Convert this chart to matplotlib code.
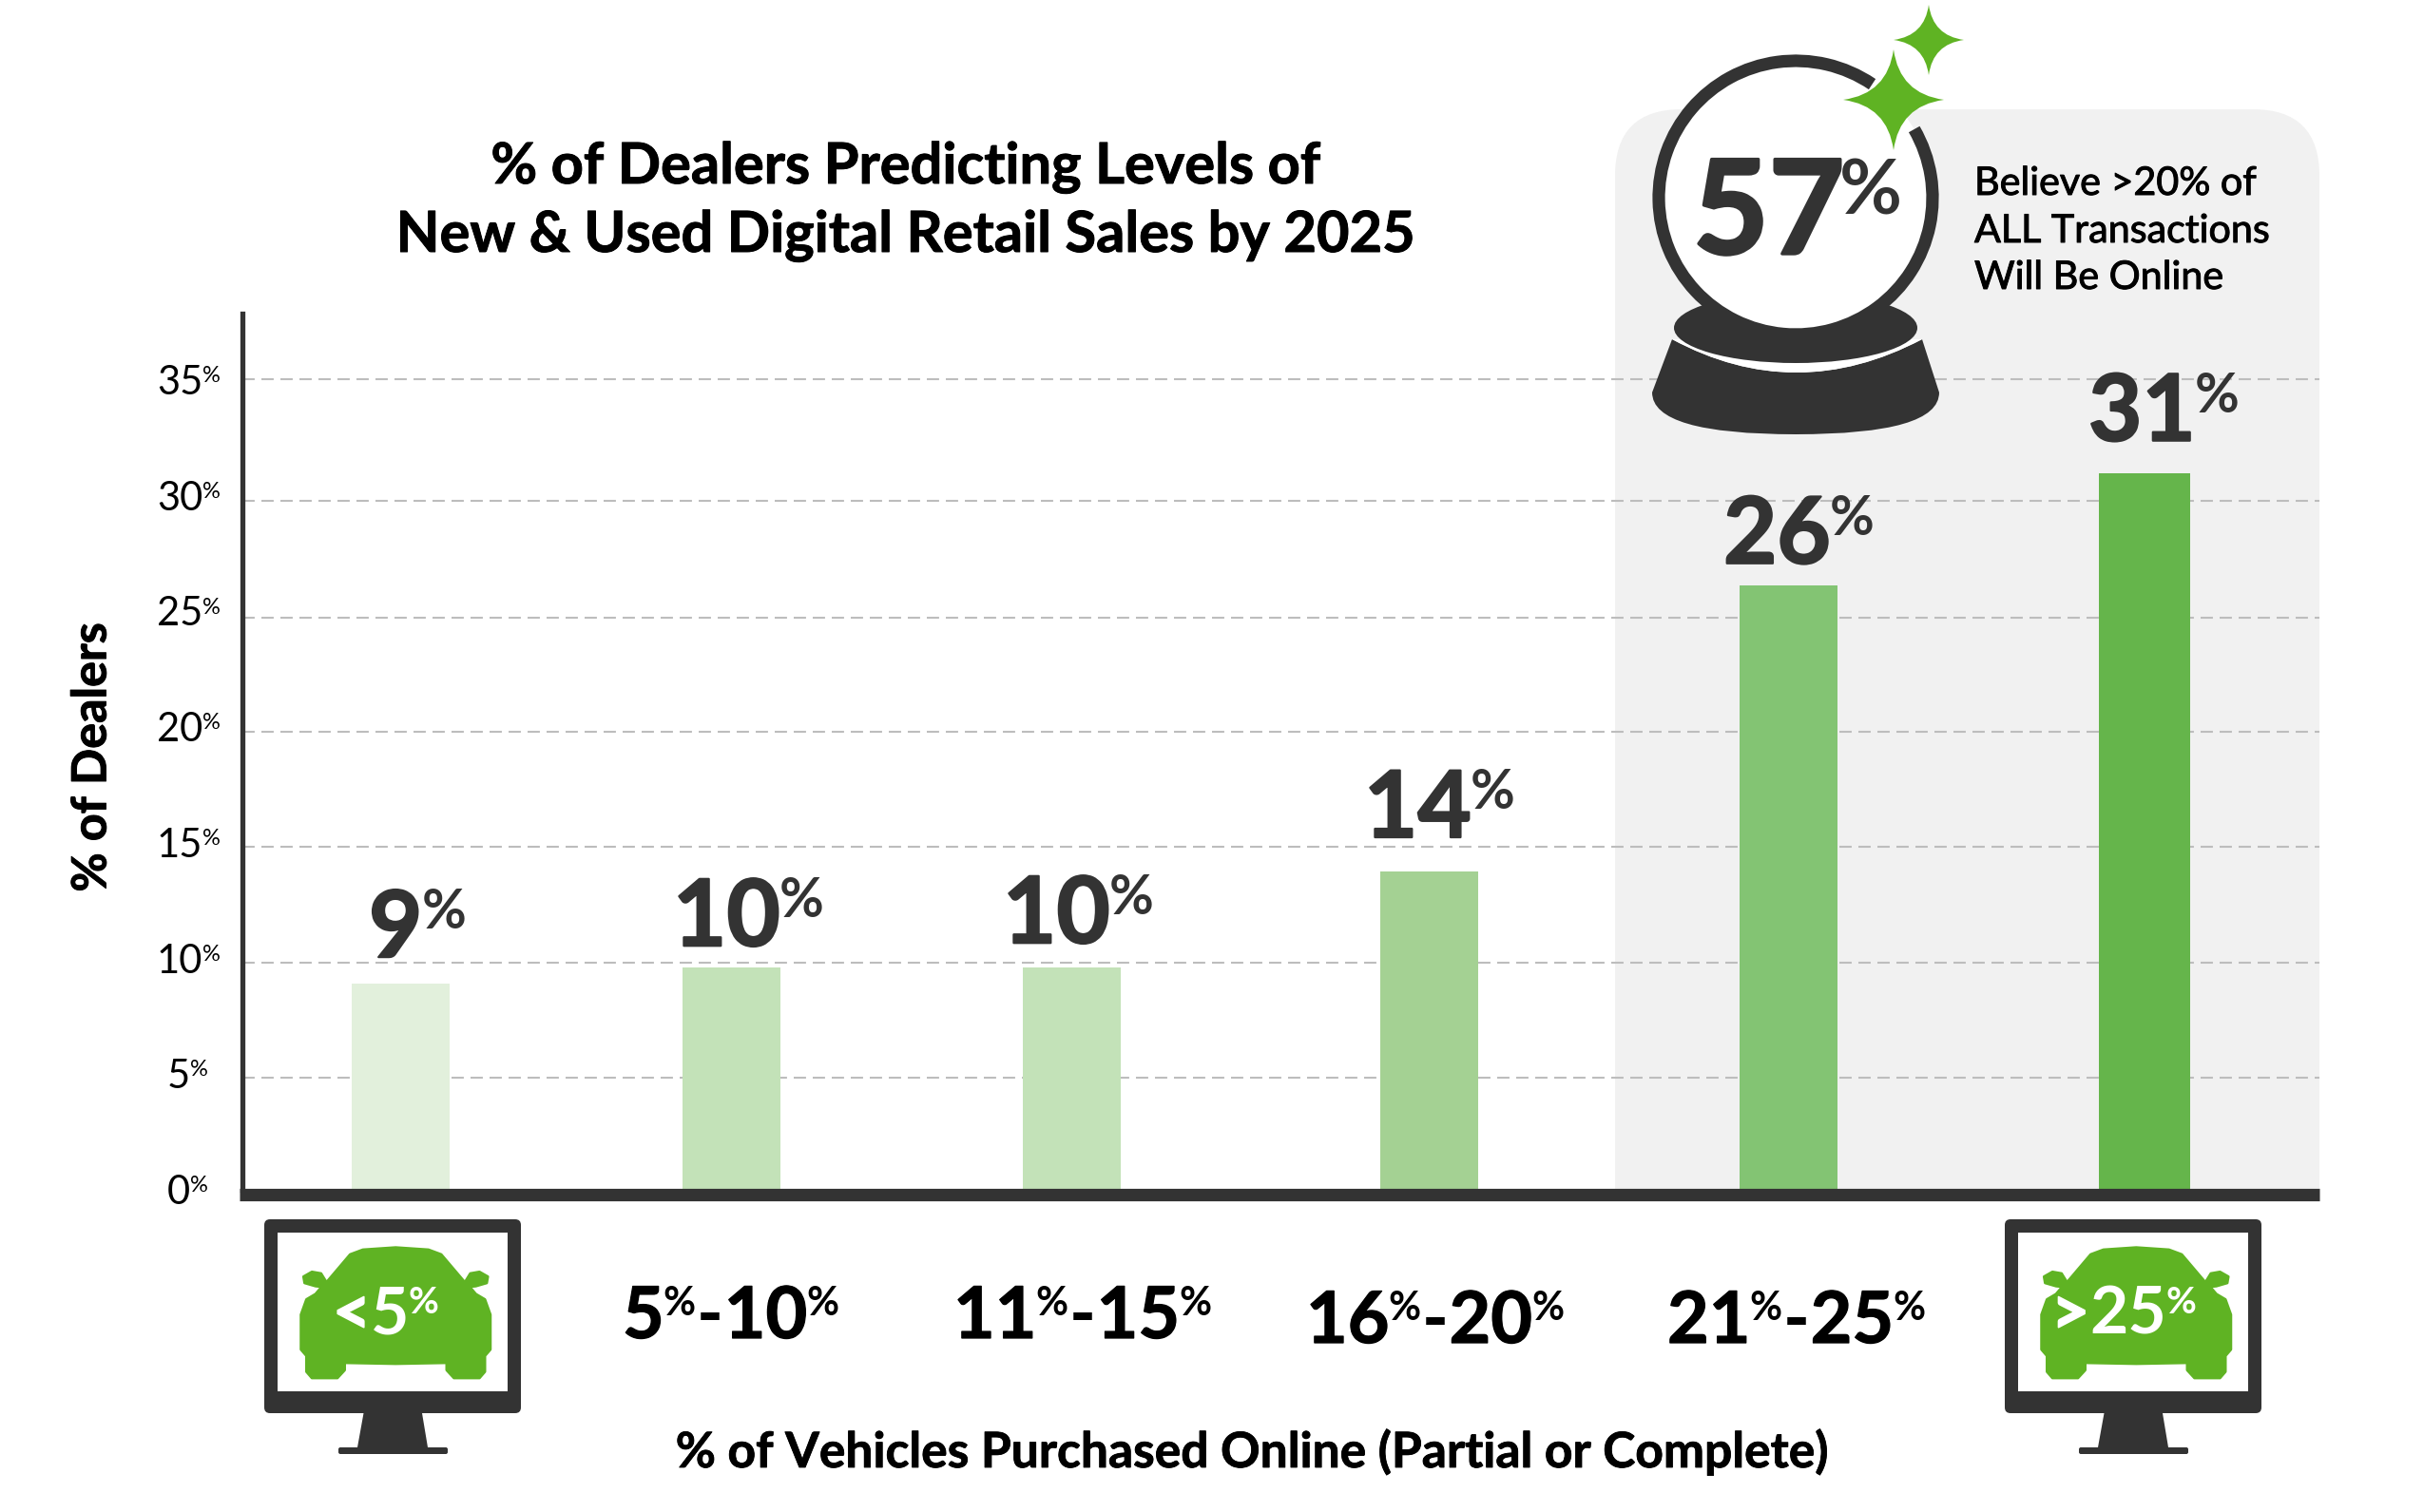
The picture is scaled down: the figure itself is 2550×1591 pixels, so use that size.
import matplotlib
matplotlib.use('Agg')
import matplotlib.pyplot as plt
import matplotlib.patheffects as pe
from matplotlib.patches import Circle, Ellipse, FancyBboxPatch, PathPatch, Polygon, Rectangle, Arc
from matplotlib.path import Path

plt.rcParams['font.family'] = ['Lato', 'DejaVu Sans']

# values
categories = ['<5%', '5%-10%', '11%-15%', '16%-20%', '21%-25%', '>25%']
dealer_pct = [9.0, 9.7, 9.7, 13.9, 26.4, 31.3]
bar_labels = ['9', '10', '10', '14', '26', '31']
y_ticks = [0, 5, 10, 15, 20, 25, 30, 35]
# the gridlines in the picture are not quite evenly spaced
grid_levels = [4.9, 9.9, 15.0, 20.0, 25.0, 30.1, 35.4]
bar_colors = ['#e2f0dc', '#c3e2b8', '#c3e2b8', '#a4d193', '#83c473', '#65b54b']

DARK = '#333333'
GREEN = '#5fb323'
W, H = 2550, 1591

# layout, in pixels of the final image
bar_x = [421, 769, 1127, 1503, 1881, 2256]
bar_w = [103, 103, 103, 103, 103, 96]
label_left = [388, 708, 1055, 1435, 1813, 2197]
label_gap = [28, 23, 26, 36, 23, 34]
AX_L, AX_R, AX_T, AX_0 = 255, 2440, 330, 1252
PX_PER_UNIT = 24.1

fig = plt.figure(figsize=(W / 100, H / 100), dpi=100, facecolor='white')


def rect(l, r, t, b):
    return [l / W, 1 - b / H, (r - l) / W, (b - t) / H]


def thick(w, color='black'):
    return [pe.withStroke(linewidth=w, foreground=color)]


# background layer: grey panel
bg = fig.add_axes([0, 0, 1, 1], zorder=0)
bg.set_xlim(0, W)
bg.set_ylim(H, 0)
bg.axis('off')
bg.add_patch(FancyBboxPatch((1699 + 70, 115 + 70), 741 - 140, 1400, boxstyle='round,pad=70,rounding_size=70',
                            fc='#f1f1f1', ec='none'))
bg.add_patch(Rectangle((0, AX_0), W, H - AX_0, fc='white', ec='none'))
bg.add_patch(Rectangle((2440, 0), W - 2440, H, fc='white', ec='none'))

# main chart
ax = fig.add_axes(rect(AX_L, AX_R, AX_T, AX_0), zorder=1)
ax.patch.set_visible(False)
ax.set_xlim(AX_L, AX_R)
ax.set_ylim(0, (AX_0 - AX_T) / PX_PER_UNIT)
ax.bar(bar_x, dealer_pct, width=bar_w, color=bar_colors, zorder=3)
ax.set_xticks([])
ax.set_yticks(grid_levels)
ax.set_yticklabels([])
ax.tick_params(length=0)
ax.grid(axis='y', color='#bdbdbd', lw=1.5, linestyle=(0, (6.2, 3.4)), zorder=1)
for s in ['top', 'right']:
    ax.spines[s].set_visible(False)
ax.spines['left'].set_linewidth(3.8)
ax.spines['left'].set_color(DARK)
ax.spines['bottom'].set_visible(False)
ax.add_line(plt.Line2D([-0.0012, 1], [-0.0055, -0.0055], transform=ax.transAxes, color=DARK, lw=9.5,
                       solid_capstyle='butt', clip_on=False, zorder=5))

# overlay in pixel coordinates
ov = fig.add_axes([0, 0, 1, 1], zorder=2)
ov.set_xlim(0, W)
ov.set_ylim(H, 0)
ov.axis('off')
renderer = fig.canvas.get_renderer()


def right_edge(t):
    return ov.transData.inverted().transform(t.get_window_extent(renderer).get_points())[1][0]


def sup_text(x, y, num, size, pct_size, color='black', weight='bold', rise=None, pct_gap=0, stroke=0):
    # number with a small raised % sign, x is the left edge and y the baseline
    t = ov.text(x, y, num, fontsize=size, color=color, fontweight=weight, va='baseline', ha='left')
    if rise is None:
        rise = (size - pct_size) * 0.72 * 100 / 72
    p = ov.text(right_edge(t) + pct_gap, y - rise, '%', fontsize=pct_size, color=color, fontweight=weight,
                va='baseline', ha='left')
    if stroke:
        t.set_path_effects(thick(stroke, color))
    return right_edge(p)


# y tick labels
for v in y_ticks:
    sup_text(165 if v >= 10 else 176, 1267 - v * 24.34, str(v), 30, 17, weight='normal')

# bar labels
for i, lab in enumerate(bar_labels):
    top = AX_0 - dealer_pct[i] * PX_PER_UNIT
    sup_text(label_left[i], top - label_gap[i], lab, 70, 41, color=DARK, pct_gap=-1, rise=30, stroke=1.6)

# titles
ov.text(953, 193, '% of Dealers Predicting Levels of', fontsize=42.9, fontweight='bold', ha='center', va='baseline',
        path_effects=thick(0.7))
ov.text(953, 265, 'New & Used Digital Retail Sales by 2025', fontsize=42.9, fontweight='bold', ha='center',
        va='baseline', path_effects=thick(0.7))
ov.text(97, 797, '% of Dealers', fontsize=36.2, fontweight='bold', rotation=90, ha='center', va='center',
        path_effects=thick(0.7))
ov.text(1317, 1544, '% of Vehicles Purchased Online (Partial or Complete)', fontsize=37.1, fontweight='bold',
        ha='center', va='baseline', path_effects=thick(0.6))

# middle category labels
cat_left = [655, 1003, 1374, 1754]
cat_base = [1408, 1408, 1413, 1413]
for i, cat in enumerate(categories[1:5]):
    a, b = cat.split('-')
    x1 = sup_text(cat_left[i], cat_base[i], a.rstrip('%'), 54.3, 30, pct_gap=-1, stroke=0.9)
    t = ov.text(x1 + 1, cat_base[i], '-', fontsize=54.3, fontweight='bold', va='baseline', ha='left')
    sup_text(right_edge(t) + 1, cat_base[i], b.rstrip('%'), 54.3, 30, pct_gap=-1, stroke=0.9)


# monitor with car icon
def zx(v, dx):
    return 240 + v / 2.61 + dx


def zy(v):
    return 1240 + v / 3


car_half = [(460, 218), (550, 225), (585, 240), (650, 328), (665, 300), (690, 295), (713, 310), (710, 330), (680, 340),
            (663, 342), (680, 365), (705, 382), (720, 430), (720, 540), (705, 560), (705, 610), (690, 630), (620, 630),
            (600, 605), (600, 582), (460, 585)]


def monitor(dx, left_text, num, size, pct_size, left, gap):
    ov.add_patch(FancyBboxPatch((278 + dx + 6, 1283 + 6), 270 - 12, 204 - 12, boxstyle='round,pad=6,rounding_size=6',
                                fc=DARK, ec='none'))
    ov.add_patch(Rectangle((292 + dx, 1297), 242, 167, fc='white', ec='none'))
    ov.add_patch(Polygon([(382.5 + dx, 1487), (444 + dx, 1487), (450 + dx, 1523), (376 + dx, 1523)], fc=DARK, ec='none'))
    ov.add_patch(FancyBboxPatch((358 + dx, 1525), 111, 3, boxstyle='round,pad=2,rounding_size=2', fc=DARK, ec='none'))
    pts = [(zx(px, dx), zy(py)) for px, py in car_half]
    pts += [(zx(920 - px, dx), zy(py)) for px, py in car_half[::-1]]
    ov.add_patch(Polygon(pts, fc=GREEN, ec=GREEN, lw=2, joinstyle='round'))
    t = ov.text(left + dx, 1404, left_text, fontsize=size, color='white', fontweight='bold', va='baseline', ha='left',
                path_effects=thick(1.2, 'white'))
    sup_text(right_edge(t) + gap, 1404, num, size, pct_size, color='white', pct_gap=-1)


monitor(0, '<', '5', 50, 28, 350, 0)
monitor(1831, '>', '25', 50, 28, 327, 0)


# crystal ball
def star(cx, cy, r, k=0.12):
    verts, codes = [(cx, cy - r)], [Path.MOVETO]
    for tip in [(cx + r, cy), (cx, cy + r), (cx - r, cy), (cx, cy - r)]:
        prev = verts[-1]
        ctrl = (cx + (prev[0] + tip[0] - 2 * cx) * k, cy + (prev[1] + tip[1] - 2 * cy) * k)
        verts += [ctrl, tip]
        codes += [Path.CURVE3, Path.CURVE3]
    return Path(verts, codes)


base = Path([(1759, 357), (1889, 427), (2022, 357), (2040, 413), (2040, 457), (1889, 457), (1738, 457), (1738, 413), (1759, 357)],
            [Path.MOVETO, Path.CURVE3, Path.CURVE3, Path.LINETO, Path.CURVE3, Path.CURVE3, Path.CURVE3, Path.CURVE3, Path.LINETO])
gap = Path([(1759, 357), (1889, 427), (2022, 357), (1759, 357)], [Path.MOVETO, Path.CURVE3, Path.CURVE3, Path.LINETO])
ov.add_patch(PathPatch(base, fc=DARK, ec='none'))
ov.add_patch(PathPatch(gap, fc='white', ec='none'))
ov.add_patch(Ellipse((1889, 345), 256, 74, fc=DARK, ec='none'))
ov.add_patch(Circle((1889, 208), 144, fc='white', ec='none'))
# inverted y, so the arc angles run clockwise on screen
ov.add_patch(Arc((1889, 208), 288, 288, theta1=-30, theta2=304, ec=DARK, lw=9.5))
ov.add_patch(PathPatch(star(1992, 105, 53), fc=GREEN, ec='none'))
ov.add_patch(PathPatch(star(2029, 42, 37), fc=GREEN, ec='none'))
sup_text(1781, 267, '57', 99, 58, color=DARK, pct_gap=-6, stroke=2.4)

for line, base_y in zip(['Believe >20% of', 'ALL Transactions', 'Will Be Online'], [205, 255, 304]):
    ov.text(2077, base_y, line, fontsize=29.7, fontweight='normal', color='black', va='baseline', ha='left',
            path_effects=thick(0.7))

fig.savefig('out.png', dpi=100, facecolor='white')
